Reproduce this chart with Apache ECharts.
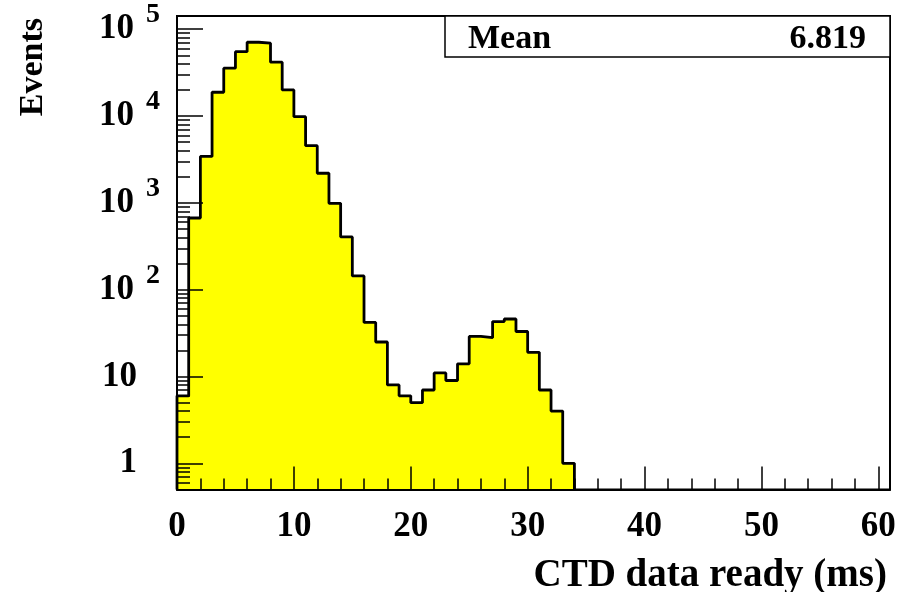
<!DOCTYPE html>
<html>
<head>
<meta charset="utf-8">
<script src="https://cdn.jsdelivr.net/npm/echarts@6/dist/echarts.min.js"></script>
<style>
  html, body { margin: 0; padding: 0; background: #ffffff; }
  #chart { width: 899px; height: 592px; }
</style>
</head>
<body>
<div id="chart"></div>
<script>
// CTD data-ready time, 1 ms bins starting at 0 ms
const binLow = [0, 1, 2, 3, 4, 5, 6, 7, 8, 9, 10, 11, 12, 13, 14, 15, 16,
                17, 18, 19, 20, 21, 22, 23, 24, 25, 26, 27, 28, 29, 30, 31, 32, 33];
const counts = [6, 670, 3425, 18800, 35550, 55200, 70800, 69000, 41700, 20000,
                9840, 4560, 2193, 989, 405, 144, 42, 25, 8, 6, 5, 7, 11, 9, 14,
                29, 28, 43, 46, 33, 19, 7, 4, 1];
const binWidth = 1;

// axis ranges
const xRange = [0, 61];
const yRange = [0.5, 1.42e5];

// statistics box
const statName = 'Mean';
const statValue = '6.819';

const FONT = '"Liberation Serif", "Times New Roman", serif';

// Step outline: start on the axis floor, one point per bin, close at the last bin edge
const stepData = [[binLow[0], yRange[0]]];
binLow.forEach((x, i) => stepData.push([x, counts[i]]));
const lastEdge = binLow[binLow.length - 1] + binWidth;
stepData.push([lastEdge, counts[counts.length - 1]]);
stepData.push([lastEdge, yRange[0]]);

function yLabel(v) {
  const e = Math.round(Math.log10(v));
  if (Math.abs(v - Math.pow(10, e)) > 1e-6 * v) return '';
  if (e >= 2) return '{m|10}{e|' + e + '}';
  return '{m|' + (e === 1 ? '10' : '1') + '}{gap|}';
}

const chart = echarts.init(document.getElementById('chart'), null, { renderer: 'canvas' });

chart.setOption({
  animation: false,
  backgroundColor: '#ffffff',
  grid: {
    left: 177, right: 9, top: 16, bottom: 102.5,
    containLabel: false, outerBoundsMode: 'none',
    show: true, borderColor: '#000', borderWidth: 2, backgroundColor: 'transparent'
  },
  xAxis: {
    type: 'value',
    min: xRange[0], max: xRange[1], interval: 10,
    z: 10,
    axisLine: { show: true, onZero: false, lineStyle: { color: '#000', width: 2 } },
    axisTick: { show: true, inside: true, length: 23, lineStyle: { color: '#000', width: 1.5 } },
    minorTick: { show: true, splitNumber: 5, length: 11, lineStyle: { color: '#000', width: 1.5 } },
    splitLine: { show: false },
    axisLabel: {
      margin: 20, showMaxLabel: false,
      color: '#000', fontFamily: FONT, fontWeight: 'bold', fontSize: 35,
      formatter: v => (v % 10 === 0 ? String(v) : '')
    },
    name: 'CTD data ready (ms)',
    nameLocation: 'end',
    nameGap: -3,
    nameTextStyle: {
      color: '#000', fontFamily: FONT, fontWeight: 'bold', fontSize: 39,
      align: 'right', verticalAlign: 'top', padding: [67, 0, 0, 0]
    }
  },
  yAxis: {
    type: 'log',
    logBase: 10,
    min: yRange[0], max: yRange[1],
    z: 10,
    axisLine: { show: true, lineStyle: { color: '#000', width: 2 } },
    axisTick: { show: true, inside: true, length: 26, lineStyle: { color: '#000', width: 1.5 } },
    minorTick: { show: true, splitNumber: 9, length: 13, lineStyle: { color: '#000', width: 1.5 } },
    splitLine: { show: false },
    axisLabel: {
      margin: 17, showMinLabel: false, showMaxLabel: false,
      color: '#000',
      formatter: yLabel,
      rich: {
        m: { fontFamily: FONT, fontWeight: 'bold', fontSize: 35, color: '#000' },
        e: { fontFamily: FONT, fontWeight: 'bold', fontSize: 28, color: '#000', padding: [0, 0, 28, 12] },
        gap: { width: 23 }
      }
    }
  },
  graphic: [
    {
      type: 'text', x: 33, y: 18, rotation: Math.PI / 2, z: 20,
      style: {
        text: 'Events', fill: '#000',
        font: 'bold 34px ' + FONT,
        align: 'right', verticalAlign: 'middle',
        textAlign: 'right', textVerticalAlign: 'middle'
      }
    },
    {
      type: 'rect', z: 20,
      shape: { x: 445, y: 16, width: 445, height: 41 },
      style: { fill: '#ffffff', stroke: '#000', lineWidth: 1.5 }
    },
    {
      type: 'text', x: 468, y: 39, z: 21,
      style: {
        text: statName, fill: '#000', font: 'bold 34px ' + FONT,
        align: 'left', verticalAlign: 'middle',
        textAlign: 'left', textVerticalAlign: 'middle'
      }
    },
    {
      type: 'text', x: 866, y: 39, z: 21,
      style: {
        text: statValue, fill: '#000', font: 'bold 34px ' + FONT,
        align: 'right', verticalAlign: 'middle',
        textAlign: 'right', textVerticalAlign: 'middle'
      }
    }
  ],
  series: [{
    type: 'line',
    step: 'end',
    data: stepData,
    symbol: 'none',
    clip: true,
    lineStyle: { color: '#000', width: 2.8 },
    areaStyle: { color: '#ffff00', opacity: 1, origin: 'start' },
    z: 2
  }]
});
</script>
</body>
</html>
